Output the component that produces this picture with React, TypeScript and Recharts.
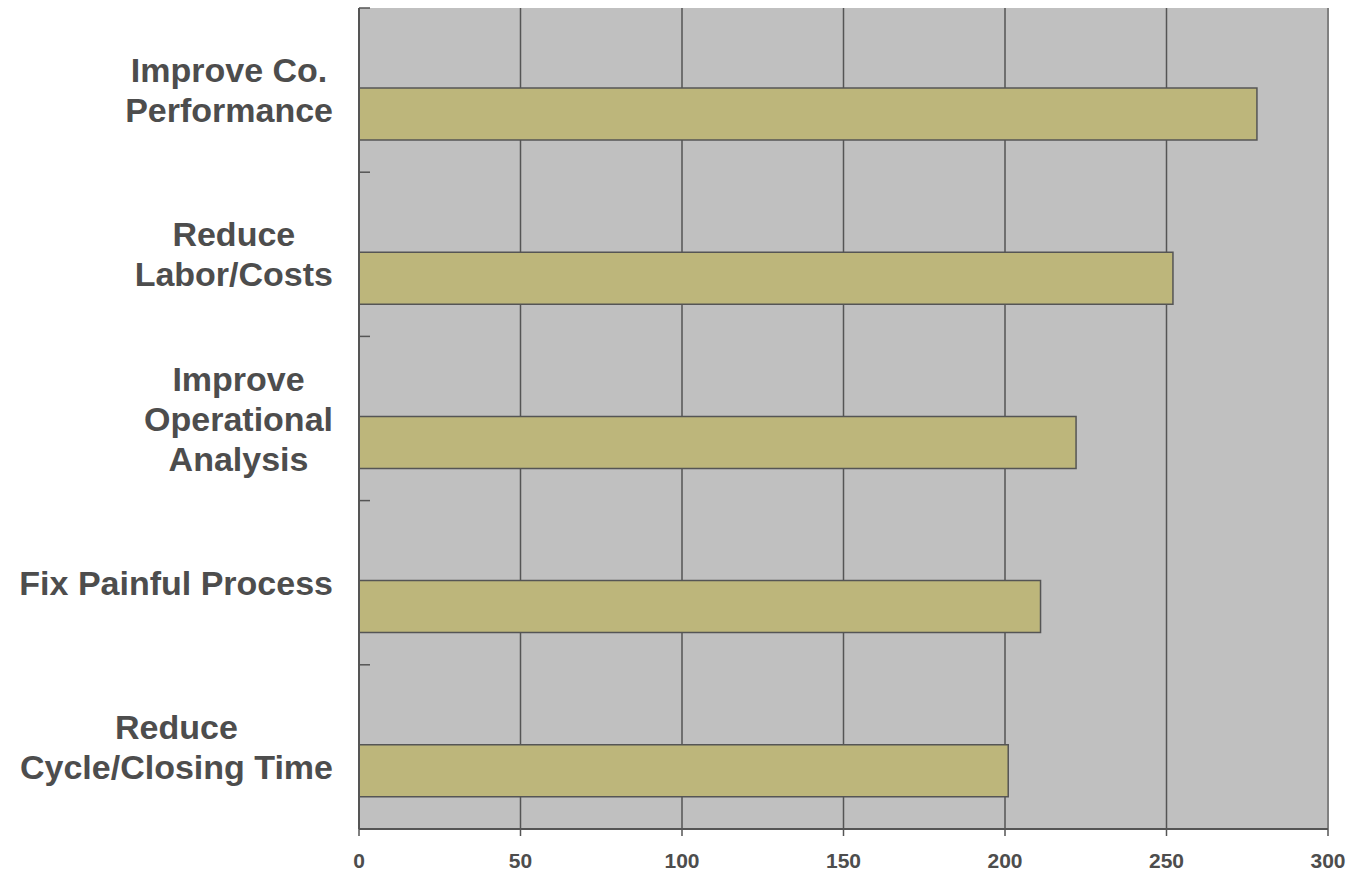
import React from 'react';
import { BarChart, Bar, XAxis, YAxis, CartesianGrid, ReferenceLine } from 'recharts';

const categories = [
  'Improve Co.\nPerformance',
  'Reduce\nLabor/Costs',
  'Improve\nOperational\nAnalysis',
  'Fix Painful Process',
  'Reduce\nCycle/Closing Time',
];
const values = [278, 252, 222, 211, 201];
const xTicks = [0, 50, 100, 150, 200, 250, 300];
const bandEdges = [0, 1, 2, 3, 4, 5];

const data = categories.map((c, i) => ({ name: c, empty: null, value: values[i] }));

// the helper axis spans the category index range [0, n-1]; band edges in those units
const nCat = categories.length;
const edgeTicks = bandEdges.map((k) => (k * (nCat - 1)) / nCat);

const FONT_FAMILY = "'Liberation Sans', Arial, sans-serif";
const LABEL_SIZE = 34;
const LABEL_FONT = `bold ${LABEL_SIZE}px ${FONT_FAMILY}`;
const TEXT_COLOR = '#4d4d4d';
const LINE_H = 40;

let ctx: CanvasRenderingContext2D | null = null;
function measure(t: string): number {
  if (!ctx) ctx = document.createElement('canvas').getContext('2d');
  if (!ctx) return t.length * LABEL_SIZE * 0.6;
  ctx.font = LABEL_FONT;
  return ctx.measureText(t).width;
}

const CategoryTick = (props: any) => {
  const { x, y, payload } = props;
  const lines = String(payload.value).split('\n');
  const maxW = Math.max(...lines.map(measure));
  const right = x - 26;
  const cx = right - maxW / 2;
  const n = lines.length;
  return (
    <text
      textAnchor="middle"
      fill={TEXT_COLOR}
      fontSize={LABEL_SIZE}
      fontWeight="bold"
      fontFamily={FONT_FAMILY}
    >
      {lines.map((l, i) => (
        <tspan key={i} x={cx} y={y + (i - (n - 1) / 2) * LINE_H + 12}>
          {l}
        </tspan>
      ))}
    </text>
  );
};

const ValueTick = (props: any) => {
  const { x, y, payload } = props;
  return (
    <text
      x={x}
      y={y + 15}
      textAnchor="middle"
      fill={TEXT_COLOR}
      fontSize={21}
      fontWeight="bold"
      fontFamily={FONT_FAMILY}
    >
      {payload.value}
    </text>
  );
};

const EmptyTick = () => <g />;

export default function App() {
  return (
    <div style={{ position: 'absolute', left: 0, top: 0, background: '#fff' }}>
      <BarChart
        width={1350}
        height={871}
        data={data}
        layout="vertical"
        margin={{ top: 8, right: 22, bottom: 0, left: 0 }}
        barSize={52}
        barGap={-5}
      >
        <CartesianGrid
          horizontal={false}
          vertical={true}
          fill="#c0c0c0"
          fillOpacity={1}
          stroke="#555555"
          strokeWidth={1.5}
        />
        <XAxis
          type="number"
          domain={[0, 300]}
          ticks={xTicks}
          interval={0}
          height={42}
          axisLine={{ stroke: '#555555', strokeWidth: 2 }}
          tickLine={{ stroke: '#555555', strokeWidth: 1.5 }}
          tickSize={7}
          tickMargin={17}
          tick={<ValueTick />}
        />
        <YAxis
          type="category"
          dataKey="name"
          width={359}
          axisLine={{ stroke: '#555555', strokeWidth: 2 }}
          tickLine={false}
          tickSize={0}
          tickMargin={0}
          interval={0}
          tick={<CategoryTick />}
        />
        <YAxis
          yAxisId="grid"
          type="number"
          domain={[0, nCat - 1]}
          ticks={edgeTicks}
          interval={0}
          mirror={true}
          width={1}
          axisLine={false}
          tick={<EmptyTick />}
          tickSize={11}
          tickLine={{ stroke: '#555555', strokeWidth: 1.5 }}
        />
        <ReferenceLine x={300} stroke="#808080" strokeWidth={2} />
        <ReferenceLine y={nCat - 1} yAxisId="grid" stroke="#808080" strokeWidth={1} />
        <Bar dataKey="empty" fill="none" isAnimationActive={false} />
        <Bar
          dataKey="value"
          fill="#bdb67b"
          stroke="#555555"
          strokeWidth={1.5}
          isAnimationActive={false}
        />
      </BarChart>
    </div>
  );
}
